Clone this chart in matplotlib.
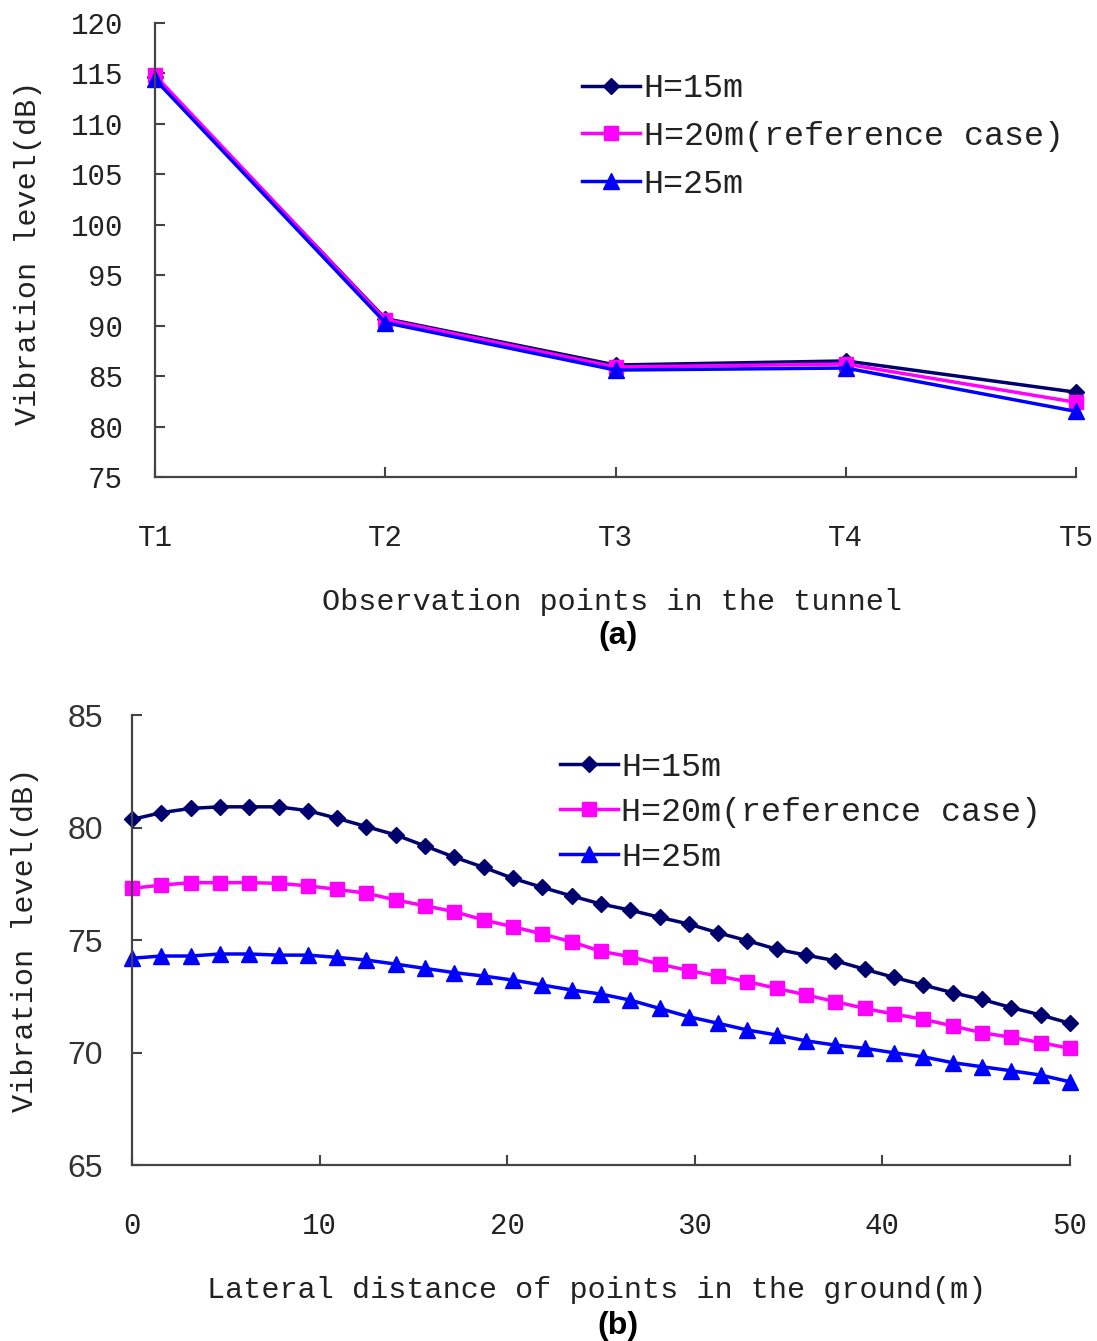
import matplotlib
matplotlib.use('Agg')
import matplotlib.pyplot as plt
import numpy as np

plt.rcParams['font.family'] = ['Liberation Mono', 'DejaVu Sans Mono']

# (a) observation points in the tunnel
points = ['T1', 'T2', 'T3', 'T4', 'T5']
tunnel_h15 = [114.6, 90.7, 86.1, 86.5, 83.4]
tunnel_h20 = [114.8, 90.6, 85.9, 86.2, 82.4]
tunnel_h25 = [114.4, 90.3, 85.6, 85.8, 81.5]

# (b) lateral distance in the ground, 33 points from 0 to 50 m
distance = np.linspace(0, 50, 33)
ground_h15 = [80.36, 80.66, 80.85, 80.92, 80.92, 80.92, 80.75, 80.41, 80.04, 79.67, 79.18,
              78.68, 78.23, 77.74, 77.34, 76.96, 76.60, 76.33, 76.01, 75.71, 75.32, 74.97,
              74.59, 74.33, 74.08, 73.70, 73.34, 73.00, 72.66, 72.36, 72.00, 71.67, 71.30]
ground_h20 = [77.30, 77.44, 77.55, 77.55, 77.55, 77.52, 77.41, 77.25, 77.08, 76.78, 76.52,
              76.26, 75.89, 75.59, 75.27, 74.92, 74.50, 74.26, 73.93, 73.64, 73.40, 73.15,
              72.85, 72.56, 72.26, 71.96, 71.71, 71.48, 71.18, 70.88, 70.68, 70.44, 70.19]
ground_h25 = [74.19, 74.29, 74.29, 74.38, 74.38, 74.33, 74.33, 74.23, 74.11, 73.93, 73.74,
              73.55, 73.40, 73.22, 73.00, 72.78, 72.60, 72.33, 71.96, 71.59, 71.30, 71.00,
              70.78, 70.52, 70.33, 70.19, 69.99, 69.81, 69.55, 69.37, 69.19, 69.00, 68.70]

labels = ['H=15m', 'H=20m(reference case)', 'H=25m']
colors = ['#00006E', '#FF00FF', '#0000FF']
markers = ['D', 's', '^']
msizes = [8.5, 10.5, 11]

text_col = '#222222'
axis_col = '#444444'

fig = plt.figure(figsize=(10.97, 13.41), dpi=100)
ax1 = fig.add_axes([0.1413, 0.6443, 0.8396, 0.3386])
ax2 = fig.add_axes([0.1203, 0.1312, 0.8550, 0.3356])


def style_axes(ax, xpad, ypad):
    for s in ['top', 'right']:
        ax.spines[s].set_visible(False)
    for s in ['left', 'bottom']:
        ax.spines[s].set_color(axis_col)
        ax.spines[s].set_linewidth(1.6)
    ax.tick_params(axis='both', direction='in', length=7, width=1.5, color=axis_col,
                   labelsize=21, labelcolor=text_col)
    ax.tick_params(axis='x', pad=xpad)
    ax.tick_params(axis='y', pad=ypad)


# top chart
xi = np.arange(len(points))
for ys, lab, c, m, ms in zip([tunnel_h15, tunnel_h20, tunnel_h25], labels, colors, markers, msizes):
    ax1.plot(xi, ys, color=c, marker=m, markersize=ms, linewidth=2.5, label=lab, clip_on=False)
ax1.set_xlim(0, 4)
ax1.set_ylim(75, 120)
ax1.set_xticks(xi)
ax1.set_xticklabels(points)
ax1.set_yticks(np.arange(75, 121, 5))
style_axes(ax1, 34, 23)
ax1.set_xlabel('Observation points in the tunnel', fontsize=21.7, color=text_col, va='center')
ax1.xaxis.set_label_coords(0.496, -0.275)
ax1.set_ylabel('Vibration level(dB)', fontsize=21.7, color=text_col, va='center')
ax1.yaxis.set_label_coords(-0.138, 0.493)
ax1.legend(loc='upper left', bbox_to_anchor=(0.4636, 0.889), frameon=False, fontsize=24,
           handlelength=1.75, handletextpad=0.1, labelspacing=0.5, borderpad=0, borderaxespad=0,
           labelcolor=text_col)

# bottom chart
for ys, lab, c, m, ms in zip([ground_h15, ground_h20, ground_h25], labels, colors, markers, msizes):
    ax2.plot(distance, ys, color=c, marker=m, markersize=ms, linewidth=2.5, label=lab, clip_on=False)
ax2.set_xlim(0, 50)
ax2.set_ylim(65, 85)
ax2.set_xticks(np.arange(0, 51, 10))
ax2.set_yticks(np.arange(65, 86, 5))
style_axes(ax2, 34, 21)
for t in ax2.get_yticklabels():
    t.set_fontfamily('Liberation Sans')
    t.set_fontsize(23)
    t.set_color('#333333')
ax2.set_xlabel('Lateral distance of points in the ground(m)', fontsize=21.7, color=text_col, va='center')
ax2.xaxis.set_label_coords(0.495, -0.278)
ax2.set_ylabel('Vibration level(dB)', fontsize=21.7, color=text_col, va='center')
ax2.yaxis.set_label_coords(-0.114, 0.5)
ax2.legend(loc='upper left', bbox_to_anchor=(0.456, 0.918), frameon=False, fontsize=24,
           handlelength=1.75, handletextpad=0.1, labelspacing=0.42, borderpad=0, borderaxespad=0,
           labelcolor=text_col)

fig.text(618 / 1097, 1 - 636 / 1341, '(a)', family='Liberation Sans', weight='bold',
         fontsize=23, ha='center', va='center', color='black')
fig.text(618 / 1097, 1 - 1326 / 1341, '(b)', family='Liberation Sans', weight='bold',
         fontsize=23, ha='center', va='center', color='black')

fig.savefig('out.png', dpi=100)
